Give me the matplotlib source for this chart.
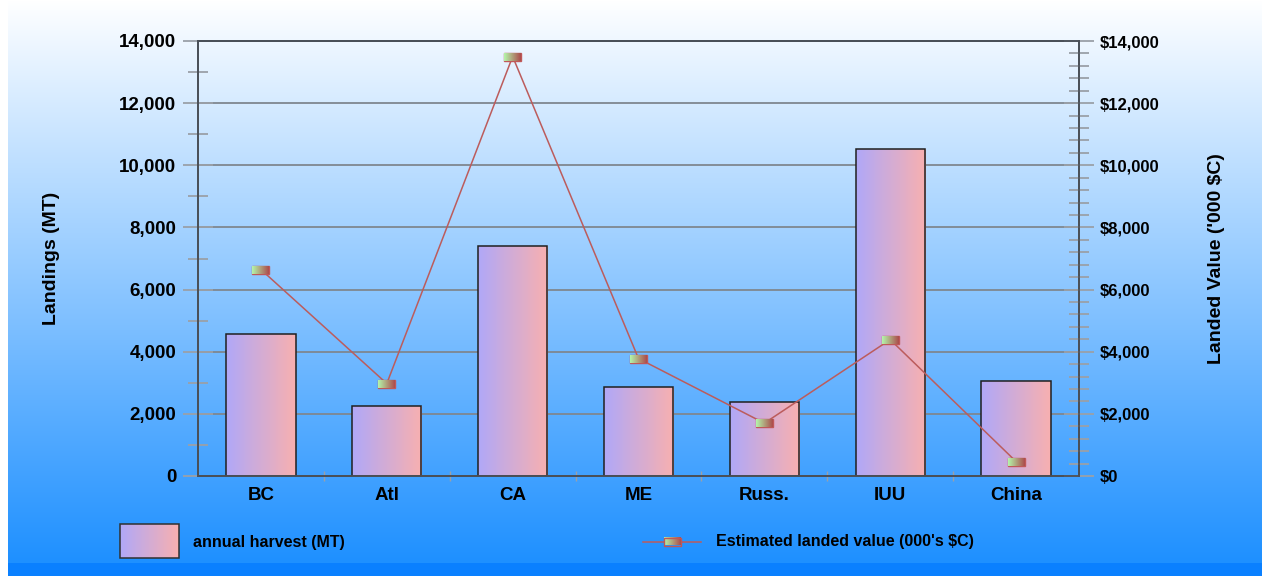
import numpy as np
import matplotlib
matplotlib.use('Agg')
import matplotlib.pyplot as plt
from matplotlib.offsetbox import OffsetImage, AnnotationBbox
from matplotlib.ticker import FuncFormatter, MultipleLocator, FixedLocator
from matplotlib.patches import Rectangle

# ---------------- data ----------------
categories = ['BC', 'Atl', 'CA', 'ME', 'Russ.', 'IUU', 'China']
harvest_mt = [4560, 2250, 7390, 2865, 2395, 10510, 3050]
landed_value = [6645, 2975, 13500, 3780, 1700, 4390, 465]
bar_label = 'annual harvest (MT)'
line_label = "Estimated landed value (000's $C)"
left_axis_title = 'Landings (MT)'
right_axis_title = "Landed Value ('000 $C)"
y_max = 14000

plt.rcParams['font.family'] = ['Liberation Sans', 'DejaVu Sans']
plt.rcParams['font.weight'] = 'bold'

W, H = 1262, 576
fig = plt.figure(figsize=(W / 100, H / 100), dpi=100)
fig.patch.set_facecolor('white')

# ---------------- background (pixel image) ----------------
strip_top = 563
left_white = 8
c_top = np.array([255, 255, 255]) / 255
c_bot = np.array([30, 144, 255]) / 255
c_strip = np.array([10, 128, 255]) / 255
bg_arr = np.ones((H, W, 3))
t = np.linspace(0, 1, strip_top)[:, None]
bg_arr[:strip_top, :, :] = (c_top + (c_bot - c_top) * t)[:, None, :]
bg_arr[strip_top:, :, :] = c_strip
bg_arr[:, :left_white, :] = 1.0
fig.figimage(bg_arr, xo=0, yo=0, origin='upper', zorder=-5)

bg = fig.add_axes([0, 0, 1, 1])
bg.axis('off')
bg.set_xlim(0, W)
bg.set_ylim(H, 0)
bg.set_autoscale_on(False)

bar_grad = np.linspace(np.array([176, 168, 248]) / 255, np.array([248, 176, 176]) / 255, 256)[None, :, :]
mk_grad = np.linspace(np.array([180, 242, 168]) / 255, np.array([172, 80, 78]) / 255, 17)[None, :, :]
mk_grad = np.repeat(mk_grad, 8, axis=0)

# ---------------- main axes ----------------
ax = fig.add_axes([198 / W, 1 - 476 / H, 881 / W, 435 / H])
ax.set_facecolor('none')
x = np.arange(len(categories))
bars = ax.bar(x, harvest_mt, width=0.55, facecolor='none', edgecolor='#202020', lw=1.1, zorder=3)
for b in bars:
    bx, by, bw, bh = b.get_x(), b.get_y(), b.get_width(), b.get_height()
    im = ax.imshow(bar_grad, extent=[bx, bx + bw, by, by + bh], aspect='auto',
                   interpolation='bilinear', zorder=2.9)
    im.set_clip_path(b)
ax.set_xlim(-0.5, len(categories) - 0.5)
ax.set_ylim(0, y_max)
ax.set_aspect('auto')

ax.set_axisbelow(True)
ax.yaxis.set_major_locator(MultipleLocator(2000))
ax.yaxis.set_minor_locator(MultipleLocator(1000))
ax.yaxis.set_major_formatter(FuncFormatter(lambda v, p: f'{v:,.0f}'))
ax.yaxis.grid(True, which='major', color='#7f8790', lw=1.3)
ax.tick_params(axis='y', which='major', direction='inout', length=21, width=1.3,
               color='#9aa0a8', pad=5, labelsize=13.5)
ax.tick_params(axis='y', which='minor', direction='inout', length=14, width=1.3, color='#9aa0a8')
ax.set_xticks(x, categories)
ax.xaxis.set_minor_locator(FixedLocator(np.arange(0.5, len(categories) - 1, 1)))
ax.tick_params(axis='x', which='major', length=0, pad=8, labelsize=13.5)
ax.tick_params(axis='x', which='minor', direction='inout', length=7, width=1, color='#9aa0a8')
for s in ax.spines.values():
    s.set_color('#4a5058')
    s.set_linewidth(1.3)
ax.set_ylabel(left_axis_title, fontsize=14, fontweight='bold')
ax.yaxis.set_label_coords(-0.157, 0.5)

# ---------------- secondary axis ----------------
ax2 = ax.twinx()
ax2.set_ylim(0, y_max)
ax2.plot(x, landed_value, color='#bc5c5c', lw=1.1, zorder=3)
for xi, vi in zip(x, landed_value):
    oi = OffsetImage(mk_grad, zoom=0.72, interpolation='bilinear')
    ab = AnnotationBbox(oi, (xi, vi), xycoords='data', frameon=True, pad=0,
                        bboxprops=dict(edgecolor='#c05858', lw=1, boxstyle='square,pad=0'),
                        zorder=4)
    ax2.add_artist(ab)
ax2.yaxis.set_major_locator(MultipleLocator(2000))
ax2.yaxis.set_minor_locator(MultipleLocator(400))
ax2.yaxis.set_major_formatter(FuncFormatter(lambda v, p: f'${v:,.0f}'))
ax2.tick_params(axis='y', which='major', direction='inout', length=21, width=1.3,
                color='#9aa0a8', pad=4.5, labelsize=12)
ax2.tick_params(axis='y', which='minor', direction='inout', length=14, width=1.3, color='#9aa0a8')
for s in ax2.spines.values():
    s.set_color('#4a5058')
    s.set_linewidth(1.3)
ax2.set_ylabel(right_axis_title, fontsize=14, fontweight='bold', rotation=90)
ax2.yaxis.set_label_coords(1.1465, 0.5)

# ---------------- legend ----------------
bg.imshow(bar_grad, extent=[120, 179, 558, 524], aspect='auto', interpolation='bilinear', zorder=2)
bg.add_patch(Rectangle((120, 524), 59, 34, facecolor='none', edgecolor='#303030', lw=1.1, zorder=3))
bg.text(193, 542, bar_label, fontsize=11.5, fontweight='bold', va='center', ha='left', zorder=3)
bg.plot([643, 701], [541.5, 541.5], color='#bc5c5c', lw=1.1, zorder=2)
bg.imshow(mk_grad, extent=[664, 681, 545.5, 537.5], aspect='auto', interpolation='bilinear', zorder=3)
bg.add_patch(Rectangle((664, 537.5), 17, 8, facecolor='none', edgecolor='#c05858', lw=1, zorder=4))
bg.text(716, 541.5, line_label, fontsize=11.5, fontweight='bold', va='center', ha='left', zorder=3)
bg.set_xlim(0, W)
bg.set_ylim(H, 0)

fig.savefig('out.png', dpi=100)
